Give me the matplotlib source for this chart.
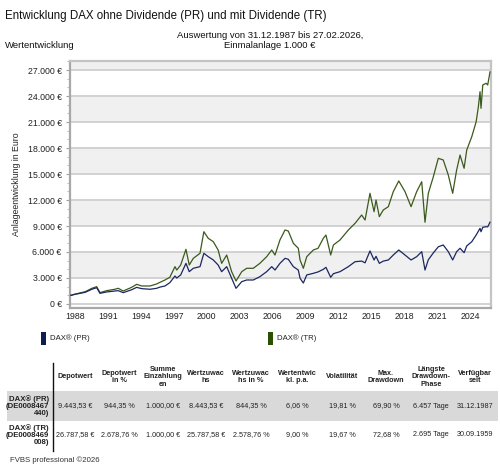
import matplotlib
matplotlib.use("Agg")
import matplotlib.pyplot as plt
from matplotlib.patches import Rectangle
from matplotlib.ticker import FuncFormatter, MultipleLocator

plt.rcParams['font.family'] = ['Liberation Sans', 'DejaVu Sans']

# ---------------- data ----------------
dates = [1988.00, 1988.40, 1988.67, 1989.30, 1989.90, 1990.34, 1990.64, 1991.25,
         1992.00, 1992.30, 1992.76, 1993.52, 1993.98, 1994.44, 1995.20, 1995.80,
         1996.10, 1996.56, 1997.00, 1997.47, 1997.63, 1997.99, 1998.47, 1998.77,
         1999.14, 1999.75, 2000.10, 2000.50, 2000.96, 2001.40, 2001.72, 2002.18,
         2002.63, 2003.03, 2003.55, 2004.00, 2004.60, 2005.20, 2005.82, 2006.28,
         2006.58, 2007.03, 2007.49, 2007.79, 2008.25, 2008.70, 2008.86, 2009.16,
         2009.47, 2010.07, 2010.50, 2010.98, 2011.22, 2011.65, 2011.90, 2012.50,
         2013.26, 2013.87, 2014.47, 2014.78, 2015.23, 2015.60, 2015.78, 2016.08,
         2016.44, 2016.90, 2017.35, 2017.85, 2018.42, 2018.97, 2019.48, 2019.94,
         2020.24, 2020.54, 2021.00, 2021.45, 2021.90, 2022.36, 2022.76, 2023.12,
         2023.43, 2023.80, 2024.04, 2024.50, 2024.90, 2025.10, 2025.25, 2025.34,
         2025.50, 2025.80, 2025.95, 2026.16]

dax_tr = [1000, 1150, 1230, 1420, 1810, 2000, 1310, 1540,
          1700, 1810, 1500, 1920, 2270, 2080, 2080, 2310,
          2500, 2770, 3080, 4310, 3920, 4500, 6310, 4500,
          5270, 5850, 8340, 7580, 7190, 6230, 4690, 5650,
          3730, 2650, 3730, 4120, 4120, 4690, 5460, 6230,
          5650, 7390, 8540, 8420, 7000, 6430, 5080, 4120,
          5460, 6230, 6430, 7580, 7960, 5650, 6810, 7390,
          8540, 9310, 10270, 9690, 12770, 10650, 12000, 10080,
          10850, 11230, 12960, 14200, 12960, 11230, 12960, 14110,
          9430, 12770, 14690, 16810, 16620, 14890, 12770, 15460,
          17190, 15660, 17770, 19310, 21040, 22770, 24500, 22580,
          25270, 25470, 25270, 26787]

dax_pr = [1000, 1130, 1190, 1350, 1700, 1880, 1230, 1390,
          1500, 1540, 1310, 1640, 1920, 1770, 1700, 1810,
          1950, 2080, 2460, 3230, 3000, 3350, 4690, 3730,
          4120, 4310, 5850, 5460, 5080, 4500, 3730, 4310,
          2970, 1810, 2580, 2770, 2770, 3150, 3730, 4310,
          3920, 4690, 5270, 5160, 4310, 3920, 2970, 2420,
          3350, 3540, 3700, 4000, 4230, 3080, 3500, 3730,
          4310, 4880, 4950, 4750, 6120, 5080, 5500, 4690,
          4950, 5080, 5650, 6230, 5650, 5080, 5460, 6040,
          3920, 5100, 5900, 6600, 6810, 6040, 5080, 6040,
          6430, 5920, 6700, 7190, 7960, 8400, 8730, 8340,
          8850, 8920, 8900, 9443]

year_labels = [1988, 1991, 1994, 1997, 2000, 2003, 2006, 2009, 2012, 2015, 2018, 2021, 2024]

series_names = ["DAX\u00ae (PR)", "DAX\u00ae (TR)"]
row_labels = ["DAX\u00ae (PR)\n(DE0008467\n440)", "DAX\u00ae (TR)\n(DE0008469\n008)"]
headers = ["Depotwert", "Depotwert\nin %", "Summe\nEinzahlung\nen", "Wertzuwac\nhs",
           "Wertzuwac\nhs in %", "Wertentwic\nkl. p.a.", "Volatilit\u00e4t",
           "Max.\nDrawdown", "L\u00e4ngste\nDrawdown-\nPhase", "Verf\u00fcgbar\nseit"]
row_pr = ["9.443,53 \u20ac", "944,35 %", "1.000,00 \u20ac", "8.443,53 \u20ac", "844,35 %",
          "6,06 %", "19,81 %", "69,90 %", "6.457 Tage", "31.12.1987"]
row_tr = ["26.787,58 \u20ac", "2.678,76 %", "1.000,00 \u20ac", "25.787,58 \u20ac", "2.578,76 %",
          "9,00 %", "19,67 %", "72,68 %", "2.695 Tage", "30.09.1959"]

# ---------------- figure ----------------
W, H = 500, 470
fig = plt.figure(figsize=(W / 100, H / 100), dpi=100)

def fx(px):
    return px / W

def fy(py):
    return 1 - py / H

ax = fig.add_axes([fx(70), fy(308), fx(491) - fx(70), fy(61) - fy(308)])

col_pr = '#1c2760'
col_tr = '#3b5a1c'

# background bands
for lo in range(3000, 30000, 6000):
    ax.axhspan(lo, lo + 3000, color='#f0f0f0', zorder=0, lw=0)
for v in range(0, 30000, 3000):
    ax.axhline(v, color='#d2d2d2', lw=1.4, zorder=1)

ax.plot(dates, dax_tr, color=col_tr, lw=0.9, zorder=3)
ax.plot(dates, dax_pr, color=col_pr, lw=0.9, zorder=3)

ax.set_xlim(1987.91, 2026.25)
ax.set_ylim(-462, 28040)

ax.yaxis.set_major_locator(MultipleLocator(3000))
ax.yaxis.set_minor_locator(MultipleLocator(1000))
ax.yaxis.set_major_formatter(FuncFormatter(lambda v, p: f"{int(v):,} \u20ac".replace(",", ".")))
ax.tick_params(axis='y', which='major', length=3, color='#a0a0a0', labelsize=6.3, pad=3, labelcolor='#222222')
ax.tick_params(axis='y', which='minor', length=2, color='#b0b0b0')

ax.set_xticks([y + 0.36 for y in year_labels])
ax.set_xticklabels([str(y) for y in year_labels])
ax.tick_params(axis='x', length=0, labelsize=6.3, pad=3, labelcolor='#222222')

for s in ['left', 'bottom']:
    ax.spines[s].set_color('#a8a8a8')
    ax.spines[s].set_linewidth(1.6)
for s in ['top', 'right']:
    ax.spines[s].set_color('#c4c4c4')
    ax.spines[s].set_linewidth(1.6)

fig.text(fx(17), fy(184), "Anlageentwicklung in Euro", rotation=90, ha='center', va='center',
         fontsize=6.3, color='#222222')

# titles
fig.text(fx(5), fy(16), "Entwicklung DAX ohne Dividende (PR) und mit Dividende (TR)",
         fontsize=8.3, ha='left', va='center', color='#111111')
fig.text(fx(270), fy(35), "Auswertung von 31.12.1987 bis 27.02.2026,", fontsize=6.8,
         ha='center', va='center', color='#111111')
fig.text(fx(270), fy(46), "Einmalanlage 1.000 \u20ac", fontsize=6.8,
         ha='center', va='center', color='#111111')
fig.text(fx(5), fy(45), "Wertentwicklung", fontsize=6.8, ha='left', va='center', color='#111111')

# legend
leg_sq = [(41, '#0d1d50'), (268, '#2d4f02')]
for (lx, c), name in zip(leg_sq, series_names):
    fig.patches.append(Rectangle((fx(lx), fy(345)), fx(5), fy(332) - fy(345), transform=fig.transFigure,
                                 color=c, lw=0))
    fig.text(fx(lx + 9), fy(338), name, fontsize=5.6, ha='left', va='center', color='#222222')

# table
narrow = ['Liberation Sans Narrow', 'Liberation Sans', 'DejaVu Sans']
col_x = [75, 119.5, 163, 206, 251, 297, 342, 386, 431, 475]
fig.patches.append(Rectangle((fx(7), fy(421)), fx(491), fy(391) - fy(421), transform=fig.transFigure,
                             color='#d9d9d9', lw=0, zorder=0))
fig.lines.append(plt.Line2D([fx(52.5), fx(52.5)], [fy(363), fy(451)], transform=fig.transFigure,
                            color='#111111', lw=1.0))
for cx, h in zip(col_x, headers):
    fig.text(fx(cx), fy(377), h, fontsize=5.2, fontweight='bold', ha='center', va='center',
             color='#222222', linespacing=1.05)
for ry, lab, vals in [(406, row_labels[0], row_pr), (435, row_labels[1], row_tr)]:
    fig.text(fx(49), fy(ry), lab, fontsize=5.6, fontweight='bold', ha='right', va='center',
             color='#222222', linespacing=1.05, family=narrow)
    for cx, v in zip(col_x, vals):
        fig.text(fx(cx), fy(ry), v, fontsize=5.2, ha='center', va='center', color='#222222')

fig.text(fx(10), fy(460), "FVBS professional \u00a92026", fontsize=5.6, ha='left', va='center',
         color='#333333')

fig.savefig("out.png", dpi=100)
